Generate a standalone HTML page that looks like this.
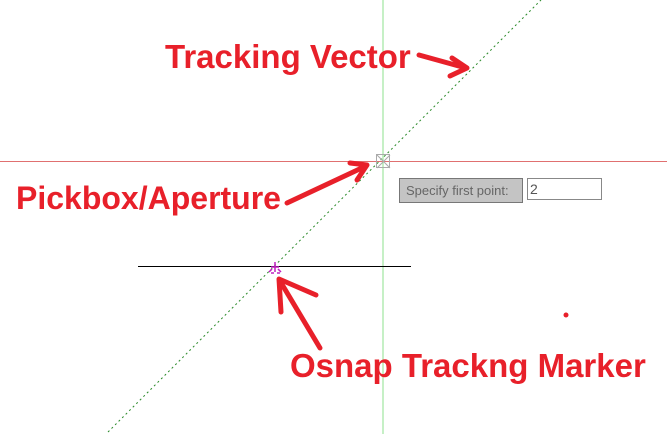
<!DOCTYPE html>
<html><head><style>
body{margin:0;width:667px;height:434px;background:#fff;overflow:hidden;position:relative;font-family:"Liberation Sans",sans-serif}
.t{position:absolute;color:#e8202a;font-weight:bold;font-size:33px;white-space:nowrap;line-height:1}
</style></head><body>
<svg width="667" height="434" style="position:absolute;left:0;top:0">
<line x1="383" y1="0" x2="383" y2="434" stroke="#8ee08e" stroke-width="1"/>
<line x1="0" y1="161.5" x2="667" y2="161.5" stroke="#e07070" stroke-width="1"/>
<line x1="108" y1="432" x2="541" y2="0" stroke="#2a8a2a" stroke-width="1" stroke-dasharray="2,3"/>
<line x1="138" y1="266.5" x2="411" y2="266.5" stroke="#000" stroke-width="1"/>
<rect x="376.5" y="154.5" width="13" height="13" fill="none" stroke="#aaa"/>
<line x1="377" y1="155" x2="390" y2="168" stroke="#aaa"/>
<line x1="390" y1="155" x2="377" y2="168" stroke="#aaa"/>
<g stroke="#c020c0" stroke-width="1.5" fill="none">
<line x1="275" y1="262" x2="275" y2="272"/><line x1="271" y1="267" x2="279" y2="267"/>
<path d="M269 272 l3 -3 M281 272 l-3 -3 M271 273 h3 M277 273 h3"/>
</g>
<g stroke="#e8202a" stroke-width="5" fill="none" stroke-linecap="round" stroke-linejoin="round">
<line x1="419" y1="55" x2="466" y2="68"/>
<path d="M452 58 L467 68 L450 76"/>
<line x1="287" y1="203" x2="366" y2="166"/>
<path d="M350 163 L367 165 L357 180"/>
<path d="M281 312 L279 279 L316 295"/>
<line x1="320" y1="348" x2="280" y2="281"/>
</g>
<circle cx="566" cy="315" r="2.5" fill="#e8202a"/>
</svg>
<div class="t" style="left:165px;top:40px">Tracking Vector</div>
<div class="t" style="left:16px;top:182px;font-size:32px">Pickbox/Aperture</div>
<div class="t" style="left:290px;top:349px">Osnap Trackng Marker</div>
<div style="position:absolute;left:399px;top:178px;background:#c4c4c4;border:1px solid #777;font-size:13px;color:#666;line-height:23px;padding-left:6px;box-sizing:border-box;width:124px;height:25px">Specify first point:</div>
<div style="position:absolute;left:527px;top:178px;width:75px;height:22px;border:1px solid #888;box-sizing:border-box;font-size:14px;color:#555;line-height:20px;padding-left:2px">2</div>
</body></html>
